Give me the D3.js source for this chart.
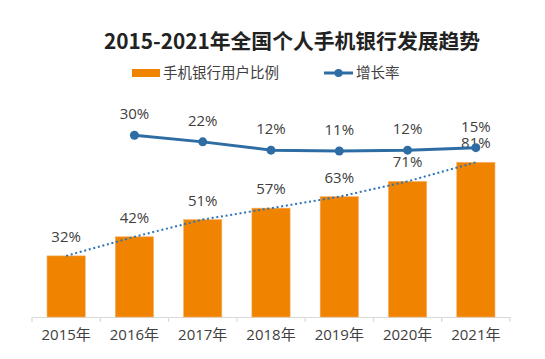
<!DOCTYPE html>
<html>
<head>
<meta charset="utf-8">
<script src="https://cdn.jsdelivr.net/npm/d3@7"></script>
<style>
html,body{margin:0;padding:0;background:#fff;}
svg{display:block;font-family:"Open Sans","Noto Sans CJK SC",sans-serif;}
</style>
</head>
<body>
<svg id="chart" width="545" height="359"></svg>
<script>
const title = "2015-2021年全国个人手机银行发展趋势";
const categories = ["2015年","2016年","2017年","2018年","2019年","2020年","2021年"];
const userShare = [32, 42, 51, 57, 63, 71, 81];
const growthRate = [null, 30, 22, 12, 11, 12, 15];
const seriesNames = ["手机银行用户比例", "增长率"];

const barColor = "#F08300";
const lineColor = "#2E6DA4";
const textColor = "#404040";

const svg = d3.select("#chart");

const x = d3.scaleBand().domain(categories).range([32, 510]).paddingInner(0.44).paddingOuter(0.22);
const y = d3.scaleLinear().domain([0, 100]).range([317, 126]);
const y2 = d3.scaleLinear().domain([-190, 40]).range([317, 127]);

// title
svg.append("text").attr("x", 292).attr("y", 49).attr("text-anchor", "middle")
  .attr("font-size", 20.8).attr("font-weight", "bold").attr("fill", "#222")
  .attr("font-family", "'Noto Sans CJK SC','Open Sans',sans-serif")
  .text(title);

// legend
const lg = svg.append("g");
lg.append("rect").attr("x", 132).attr("y", 69).attr("width", 28).attr("height", 8).attr("fill", barColor);
lg.append("text").attr("x", 163).attr("font-size", 14.5).attr("fill", textColor)
  .attr("dominant-baseline", "middle").attr("y", 74).text(seriesNames[0]);
lg.append("line").attr("x1", 324).attr("x2", 353).attr("y1", 73).attr("y2", 73)
  .attr("stroke", lineColor).attr("stroke-width", 3);
lg.append("circle").attr("cx", 338.5).attr("cy", 73).attr("r", 4).attr("fill", lineColor);
lg.append("text").attr("x", 356).attr("y", 74).attr("dominant-baseline", "middle")
  .attr("font-size", 14.5).attr("fill", textColor).text(seriesNames[1]);

// axis
const axis = d3.axisBottom(x).tickSize(0).tickPadding(12);
const ag = svg.append("g").attr("transform", "translate(0,317)").call(axis);
ag.select(".domain").attr("stroke", "#d9d9d9").attr("stroke-width", 1.2);
ag.selectAll(".tick text").attr("font-size", 15).attr("fill", textColor)
  .attr("font-family", "'Open Sans','Noto Sans CJK SC',sans-serif");
const step = x.step();
const x0 = x.range()[0];
ag.selectAll("line.sep").data(d3.range(categories.length + 1)).join("line")
  .attr("class", "sep")
  .attr("x1", i => x0 + i * step).attr("x2", i => x0 + i * step)
  .attr("y1", 0).attr("y2", 5).attr("stroke", "#d9d9d9").attr("stroke-width", 1.2);

// bars
svg.append("g").selectAll("rect").data(userShare).join("rect")
  .attr("x", (d, i) => x(categories[i]))
  .attr("y", d => y(d))
  .attr("width", x.bandwidth())
  .attr("height", d => y(0) - y(d))
  .attr("fill", barColor)
  .attr("stroke", "#F5B06A").attr("stroke-width", 0.6);

// dotted trend through bar tops
const trend = d3.line().x((d, i) => x(categories[i]) + x.bandwidth() / 2).y(d => y(d));
svg.append("path").datum(userShare).attr("d", trend)
  .attr("fill", "none").attr("stroke", "#2E75B6").attr("stroke-width", 2)
  .attr("stroke-dasharray", "2 2.7");

// bar labels
svg.append("g").selectAll("text").data(userShare).join("text")
  .attr("x", (d, i) => x(categories[i]) + x.bandwidth() / 2)
  .attr("y", d => y(d) - 14)
  .attr("text-anchor", "middle").attr("font-size", 15).attr("fill", textColor)
  .text(d => d + "%");

// growth line
const lineData = growthRate.map((v, i) => ({c: categories[i], v})).filter(d => d.v !== null);
const line = d3.line().x(d => x(d.c) + x.bandwidth() / 2).y(d => y2(d.v));
svg.append("path").datum(lineData).attr("d", line)
  .attr("fill", "none").attr("stroke", lineColor).attr("stroke-width", 3)
  .attr("stroke-linejoin", "round");
svg.append("g").selectAll("circle").data(lineData).join("circle")
  .attr("cx", d => x(d.c) + x.bandwidth() / 2).attr("cy", d => y2(d.v))
  .attr("r", 4.5).attr("fill", lineColor);
svg.append("g").selectAll("text").data(lineData).join("text")
  .attr("x", d => x(d.c) + x.bandwidth() / 2).attr("y", d => y2(d.v) - 16)
  .attr("text-anchor", "middle").attr("font-size", 15).attr("fill", textColor)
  .text(d => d.v + "%");
</script>
</body>
</html>
